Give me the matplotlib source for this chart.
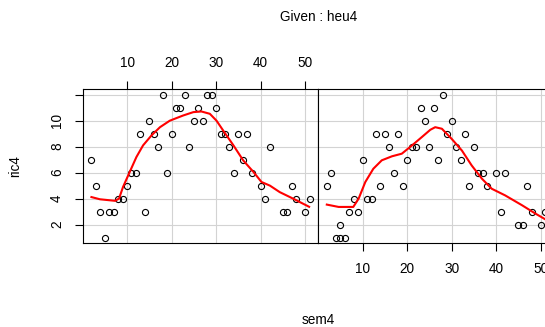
import matplotlib
matplotlib.use("Agg")
import matplotlib.pyplot as plt

plt.rcParams['font.family'] = ['Liberation Sans', 'DejaVu Sans']

# panel 1 (lower heu4 interval)
sem_a = [2, 3, 4, 5, 6, 7, 8, 9, 10, 11, 12, 13, 14, 15, 16, 17, 18, 19, 20, 21,
         22, 23, 24, 25, 26, 27, 28, 29, 30, 31, 32, 33, 34, 35, 36, 37, 38, 40,
         41, 42, 45, 46, 47, 48, 50, 51]
ric_a = [7, 5, 3, 1, 3, 3, 4, 4, 5, 6, 6, 9, 3, 10, 9, 8, 12, 6, 9, 11,
         11, 12, 8, 10, 11, 10, 12, 12, 11, 9, 9, 8, 6, 9, 7, 9, 6, 5,
         4, 8, 3, 3, 5, 4, 3, 4]
smooth_xa = [2.0, 3.9, 7.3, 8.2, 9.1, 10.6, 12.1, 13.6, 15.5, 17.4, 19.6, 22.6, 24.9,
             26.7, 28.6, 30.1, 31.6, 33.9, 36.1, 38.4, 40.2, 42.1, 44.3, 47.3, 50.9]
smooth_ya = [4.12, 3.95, 3.83, 4.0, 4.9, 6.05, 7.2, 8.1, 8.87, 9.5, 10.0, 10.4, 10.66,
             10.71, 10.53, 10.0, 9.24, 8.1, 6.94, 6.05, 5.28, 5.0, 4.5, 4.0, 3.37]

# panel 2 (upper heu4 interval)
sem_b = [2, 3, 4, 5, 5, 6, 7, 8, 9, 10, 11, 12, 13, 14, 15, 16, 17, 18, 19, 20,
         21, 22, 23, 24, 25, 26, 27, 28, 29, 30, 31, 32, 33, 34, 35, 36, 37, 38,
         40, 41, 42, 45, 46, 47, 48, 50, 51]
ric_b = [5, 6, 1, 2, 1, 1, 3, 4, 3, 7, 4, 4, 9, 5, 9, 8, 6, 9, 5, 7,
         8, 8, 11, 10, 8, 11, 7, 12, 9, 10, 8, 7, 9, 5, 8, 6, 6, 5,
         6, 3, 6, 2, 2, 5, 3, 2, 3]
smooth_xb = [1.95, 4.6, 7.9, 9.1, 10.6, 12.4, 14.3, 16.6, 18.8, 21.1, 23.3, 25.2,
             26.3, 27.8, 30.0, 32.3, 34.5, 36.8, 39.0, 42.0, 45.8, 48.8, 51.0]
smooth_yb = [3.54, 3.36, 3.36, 4.0, 5.28, 6.3, 6.95, 7.26, 7.46, 8.1, 8.74, 9.3,
             9.5, 9.38, 8.6, 7.7, 6.55, 5.53, 4.76, 4.25, 3.49, 2.85, 2.41]

xticks = [10, 20, 30, 40, 50]
yticks = [2, 4, 6, 8, 10, 12]
ylabels = ['2', '4', '6', '8', '10', '']

W, H = 545, 327
fs = 9.8
fig = plt.figure(figsize=(W / 100, H / 100), dpi=100)
bottom = 1 - 243.3 / H
height = (243.3 - 89) / H
ax1 = fig.add_axes([82.7 / W, bottom, 235.6 / W, height])
ax2 = fig.add_axes([318.3 / W, bottom, 235.6 / W, height])

for ax, xs, ys, sx, sy in [(ax1, sem_a, ric_a, smooth_xa, smooth_ya),
                           (ax2, sem_b, ric_b, smooth_xb, smooth_yb)]:
    ax.set_xlim(0.04, 52.96)
    ax.set_ylim(0.56, 12.44)
    for v in xticks:
        ax.axvline(v, color='#d3d3d3', lw=0.8, zorder=0)
    for v in yticks:
        ax.axhline(v, color='#d3d3d3', lw=0.8, zorder=0)
    ax.plot(xs, ys, 'o', mfc='none', mec='black', ms=4.4, mew=0.8, zorder=2)
    ax.plot(sx, sy, color='red', lw=1.5, zorder=3)
    for s in ax.spines.values():
        s.set_linewidth(0.8)
    ax.tick_params(direction='out', length=6, width=0.8, labelsize=fs, pad=7.5)

ax1.set_xticks(xticks)
ax1.xaxis.tick_top()
ax1.set_yticks(yticks)
ax1.set_yticklabels(ylabels, rotation=90, va='center')

ax2.set_xticks(xticks)
ax2.set_yticks([])

fig.text(15 / W, 1 - 166 / H, 'ric4', rotation=90, ha='center', va='center', fontsize=fs)
fig.text(318 / W, 1 - 320 / H, 'sem4', ha='center', va='center', fontsize=fs)
fig.text(319 / W, 1 - 17 / H, 'Given : heu4', ha='center', va='center', fontsize=fs)

fig.savefig('out.png', dpi=100)
